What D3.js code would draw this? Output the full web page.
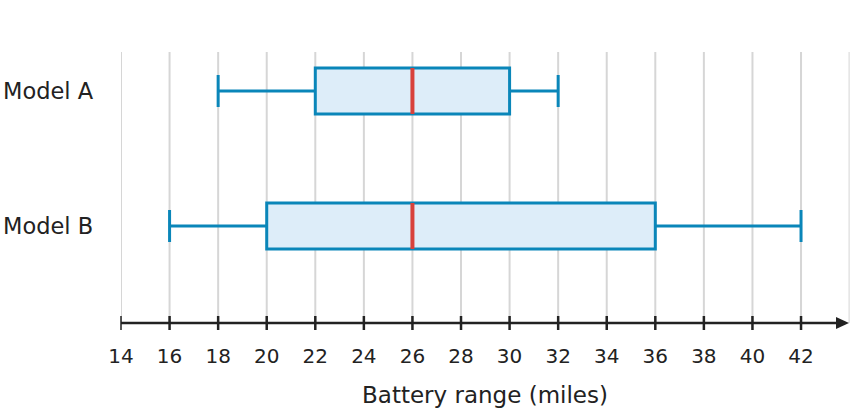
<!DOCTYPE html>
<html><head><meta charset="utf-8">
<script src="https://cdn.jsdelivr.net/npm/d3@7"></script>
<style>body{margin:0;background:#fff}svg{display:block}</style>
</head><body>
<svg id="c" width="853" height="412"></svg>
<script>
const categories = ["Model A", "Model B"];
const mins = [18, 16];
const q1s = [22, 20];
const medians = [26, 26];
const q3s = [30, 36];
const maxs = [32, 42];
const tickValues = [14,16,18,20,22,24,26,28,30,32,34,36,38,40,42];
const gridValues = [14,16,18,20,22,24,26,28,30,32,34,36,38,40,42,44];
const axisTitle = "Battery range (miles)";

const data = categories.map((c,i)=>({c, min:mins[i], q1:q1s[i], med:medians[i], q3:q3s[i], max:maxs[i]}));

const svg = d3.select("#c");
const font = "DejaVu Sans, sans-serif";
const x = d3.scaleLinear().domain([14,44]).range([121,849.6]);
const y = d3.scaleBand().domain(categories).range([23.5,293.5]);
const gridTop = 52, axisY = 323;
const blue = "#0a86b9", fill = "#ddedf9", red = "#d8413b";

svg.append("clipPath").attr("id","pc").append("rect")
  .attr("x",121).attr("y",0).attr("width",849.6-121).attr("height",412);

svg.append("g").attr("clip-path","url(#pc)").selectAll("line").data(gridValues).join("line")
  .attr("x1",d=>x(d)).attr("x2",d=>x(d)).attr("y1",gridTop).attr("y2",axisY)
  .attr("stroke","#d6d6d6").attr("stroke-width",2);

const g = svg.append("g").selectAll("g").data(data).join("g")
  .attr("transform",d=>`translate(0,${y(d.c)+y.bandwidth()/2})`);
g.append("line").attr("x1",d=>x(d.min)).attr("x2",d=>x(d.q1)).attr("stroke",blue).attr("stroke-width",3);
g.append("line").attr("x1",d=>x(d.q3)).attr("x2",d=>x(d.max)).attr("stroke",blue).attr("stroke-width",3);
g.append("line").attr("x1",d=>x(d.min)).attr("x2",d=>x(d.min)).attr("y1",-16).attr("y2",16).attr("stroke",blue).attr("stroke-width",3);
g.append("line").attr("x1",d=>x(d.max)).attr("x2",d=>x(d.max)).attr("y1",-16).attr("y2",16).attr("stroke",blue).attr("stroke-width",3);
g.append("rect").attr("x",d=>x(d.q1)).attr("width",d=>x(d.q3)-x(d.q1)).attr("y",-23).attr("height",46)
  .attr("fill",fill).attr("stroke",blue).attr("stroke-width",3);
g.append("line").attr("x1",d=>x(d.med)).attr("x2",d=>x(d.med)).attr("y1",-23).attr("y2",23).attr("stroke",red).attr("stroke-width",4);
g.append("text").attr("x",3).attr("y",0).attr("dy","0.35em").text(d=>d.c)
  .attr("font-family",font).attr("font-size",22.5).attr("fill","#222");

// axis
const ax = svg.append("g").attr("transform",`translate(0,${axisY})`);
ax.append("line").attr("x1",x(14)).attr("x2",838).attr("stroke","#222").attr("stroke-width",2.5);
ax.append("path").attr("d","M836,-6 L849,0 L836,6 Z").attr("fill","#222");
ax.selectAll("line.t").data(tickValues).join("line").attr("class","t")
  .attr("x1",d=>x(d)).attr("x2",d=>x(d)).attr("y1",-7).attr("y2",7)
  .attr("stroke","#222").attr("stroke-width",d=>d===14?1.5:2.5);
ax.selectAll("text").data(tickValues).join("text")
  .attr("x",d=>x(d)).attr("y",40).attr("text-anchor","middle").text(d=>d)
  .attr("font-family",font).attr("font-size",20).attr("fill","#222");

svg.append("text").attr("x",485).attr("y",403).attr("text-anchor","middle").text(axisTitle)
  .attr("font-family",font).attr("font-size",23).attr("fill","#222");
</script>
</body></html>
